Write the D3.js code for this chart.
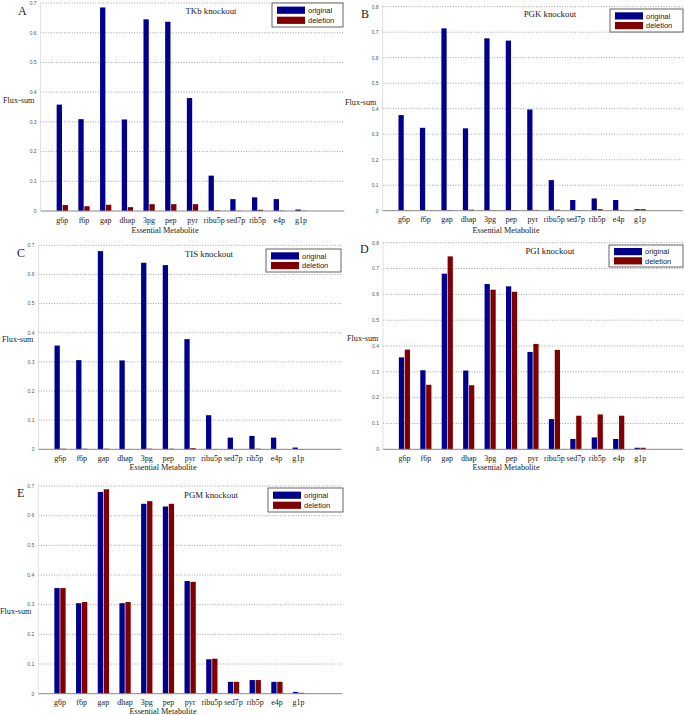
<!DOCTYPE html>
<html><head><meta charset="utf-8">
<script src="https://cdn.jsdelivr.net/npm/d3@7"></script>
<style>
html,body{margin:0;padding:0;background:#fff;}
svg{display:block;}
</style></head>
<body>
<svg id="chart" width="685" height="715"></svg>
<script>
// ---------- data ----------
const categories = ["g6p","f6p","gap","dhap","3pg","pep","pyr","ribu5p","sed7p","rib5p","e4p","g1p"];
const seriesNames = ["original","deletion"];
const panelLetters = ["A","B","C","D","E"];
const panelTitles = ["TKb knockout","PGK knockout","TIS knockout","PGI knockout","PGM knockout"];
const ticks07 = [0,0.1,0.2,0.3,0.4,0.5,0.6,0.7];
const ticks08 = [0,0.1,0.2,0.3,0.4,0.5,0.6,0.7,0.8];
const tickLabels07 = ["0","0.1","0.2","0.3","0.4","0.5","0.6","0.7"];
const tickLabels08 = ["0","0.1","0.2","0.3","0.4","0.5","0.6","0.7","0.8"];

const A_original = [0.358,0.309,0.685,0.308,0.645,0.637,0.380,0.119,0.040,0.046,0.040,0.005];
const A_deletion = [0.020,0.016,0.021,0.013,0.023,0.023,0.023,0.002,0.001,0.004,0.001,0.001];
const B_original = [0.375,0.325,0.715,0.323,0.676,0.667,0.397,0.120,0.042,0.048,0.042,0.006];
const B_deletion = [0.001,0.001,0.002,0.004,0.002,0.002,0.003,0.004,0.001,0.006,0.002,0.006];
const C_original = [0.356,0.306,0.680,0.305,0.640,0.632,0.378,0.117,0.040,0.046,0.040,0.006];
const C_deletion = [0.002,0.002,0.002,0.001,0.002,0.002,0.004,0.001,0.001,0.002,0.001,0.001];
const D_original = [0.356,0.306,0.680,0.305,0.640,0.631,0.377,0.117,0.040,0.046,0.040,0.006];
const D_deletion = [0.386,0.250,0.747,0.248,0.618,0.610,0.408,0.385,0.130,0.135,0.130,0.006];
const E_original = [0.356,0.305,0.680,0.305,0.640,0.631,0.380,0.116,0.040,0.046,0.040,0.006];
const E_deletion = [0.356,0.309,0.689,0.309,0.649,0.640,0.377,0.118,0.040,0.046,0.040,0.003];

// ---------- layout (pixel geometry, separate from data) ----------
const layouts = [
  {left:40.6, right:344.4, top:3.0,   bottom:211.0, ymax:0.7, ticks:ticks07, labels:tickLabels07,
   orig:A_original, del:A_deletion, letter:[18,15], title:[211,13.5], legend:[272,3,71,24], ylab:[3,103], xlab:[165,233]},
  {left:382.6, right:683, top:6.7,  bottom:210.7, ymax:0.8, ticks:ticks08, labels:tickLabels08,
   orig:B_original, del:B_deletion, letter:[361,18], title:[550,16.5], legend:[610,9,73,23], ylab:[345,105], xlab:[506,233]},
  {left:38.5, right:341.5, top:245.3, bottom:449.3, ymax:0.7, ticks:ticks07, labels:tickLabels07,
   orig:C_original, del:C_deletion, letter:[17,257], title:[209,256.5], legend:[266,249,75,23], ylab:[2,342], xlab:[163,470]},
  {left:383, right:683, top:242.7, bottom:449.3, ymax:0.8, ticks:ticks08, labels:tickLabels08,
   orig:D_original, del:D_deletion, letter:[360,253], title:[550,253.5], legend:[609,245,74,22], ylab:[347,341], xlab:[506,470]},
  {left:38.3, right:342, top:486.0, bottom:693.7, ymax:0.7, ticks:ticks07, labels:tickLabels07,
   orig:E_original, del:E_deletion, letter:[17,497], title:[211,497.5], legend:[268,488,75,24], ylab:[0,614], xlab:[163,713.5]}
];

const colors = ["#00008c","#7f0000"];
const serif = "'Liberation Serif','Times New Roman',serif";
const sans = "'Liberation Sans',Arial,sans-serif";
const svg = d3.select("#chart");

layouts.forEach((L, pi) => {
  const g = svg.append("g");
  const x = d3.scaleLinear().domain([0,14]).range([L.left, L.right]);
  const y = d3.scaleLinear().domain([0,L.ymax]).range([L.bottom, L.top]);

  // grid lines (dotted)
  g.append("g").selectAll("line").data(L.ticks.filter(t=>t>0)).join("line")
    .attr("x1", L.left).attr("x2", L.right)
    .attr("y1", d=>y(d)).attr("y2", d=>y(d))
    .attr("stroke","#8a8a8a").attr("stroke-width",0.8).attr("stroke-dasharray","1,1.6");

  // left axis faint
  g.append("line").attr("x1",L.left).attr("x2",L.left).attr("y1",L.top).attr("y2",L.bottom)
    .attr("stroke","#d8d8d8").attr("stroke-width",0.8);

  // y tick labels
  g.append("g").selectAll("text").data(L.ticks).join("text")
    .attr("x", L.left-4).attr("y", d=>y(d)+1.8)
    .attr("text-anchor","end")
    .attr("font-family",sans).attr("font-size",5).attr("fill","#555")
    .text((d,i)=>L.labels[i]);

  // bars
  const series = [L.orig, L.del];
  const offs = [[-0.26,-0.015],[0.015,0.26]];
  series.forEach((vals, si) => {
    g.append("g").selectAll("rect").data(vals).join("rect")
      .attr("x", (d,i)=>x(i+1+offs[si][0]))
      .attr("width", (d,i)=>x(i+1+offs[si][1]) - x(i+1+offs[si][0]))
      .attr("y", d=>y(d))
      .attr("height", d=>y(0)-y(d))
      .attr("fill", colors[si]);
  });

  // baseline
  g.append("line").attr("x1",L.left).attr("x2",L.right).attr("y1",L.bottom).attr("y2",L.bottom)
    .attr("stroke","#888").attr("stroke-width",1);

  // x tick labels
  g.append("g").selectAll("text").data(categories).join("text")
    .attr("x",(d,i)=>x(i+1)).attr("y",L.bottom+11.5)
    .attr("text-anchor","middle")
    .attr("font-family",serif).attr("font-size",8).attr("fill","#222")
    .text(d=>d);

  // x label
  g.append("text").attr("x",L.xlab[0]).attr("y",L.xlab[1])
    .attr("text-anchor","middle").attr("font-family",serif).attr("font-size",8.2).attr("fill","#222")
    .text("Essential Metabolite");

  // y label
  g.append("text").attr("x",L.ylab[0]).attr("y",L.ylab[1])
    .attr("font-family",serif).attr("font-size",8.2).attr("fill","#222")
    .text("Flux-sum");

  // title
  g.append("text").attr("x",L.title[0]).attr("y",L.title[1])
    .attr("text-anchor","middle").attr("font-family",serif).attr("font-size",8.8).attr("fill","#222")
    .text(panelTitles[pi]);

  // panel letter
  g.append("text").attr("x",L.letter[0]).attr("y",L.letter[1])
    .attr("font-family",serif).attr("font-size",12).attr("fill","#222")
    .text(panelLetters[pi]);

  // legend
  const [lx,ly,lw,lh] = L.legend;
  const lg = g.append("g");
  lg.append("rect").attr("x",lx).attr("y",ly).attr("width",lw).attr("height",lh)
    .attr("fill","#fff").attr("stroke","#555").attr("stroke-width",0.9);
  seriesNames.forEach((s,si)=>{
    const cy = ly + lh*(si===0?0.3:0.72);
    lg.append("rect").attr("x",lx+5).attr("y",cy-3.6).attr("width",28).attr("height",7.2).attr("fill",colors[si]);
    lg.append("text").attr("x",lx+36).attr("y",cy+2.7)
      .attr("font-family",sans).attr("font-size",7.5).attr("fill","#222").text(s);
  });
});
</script>
</body></html>
